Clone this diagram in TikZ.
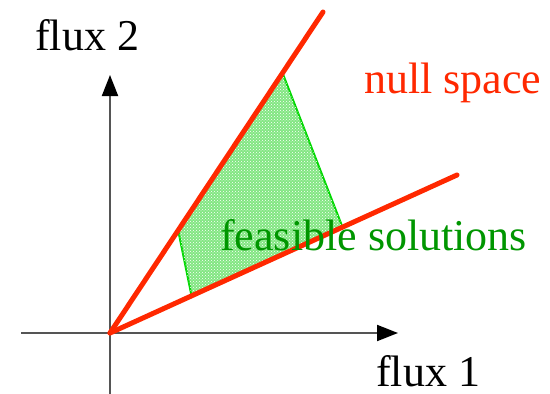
\documentclass[tikz,border=0pt]{standalone}
\usepackage{fontspec}
\setmainfont{Liberation Serif}
\usetikzlibrary{arrows.meta,calc,patterns}
\definecolor{nullred}{RGB}{255,40,0}
\definecolor{feasgreen}{RGB}{0,215,0}
\definecolor{feastext}{RGB}{0,150,0}
\definecolor{feasfill}{RGB}{130,230,130}
\definecolor{axisgray}{RGB}{85,85,85}
\tikzset{
  axisline/.style={draw=axisgray,line width=2pt},
  axisarrow/.style={axisline,-{Triangle[length=21pt,width=16pt,color=black]}},
  nullline/.style={draw=nullred,line width=5pt,line cap=round},
  feasregion/.style={fill=feasfill,draw=feasgreen,line width=2pt},
  feasdots/.style={pattern=crosshatch dots,pattern color=white},
  label/.style={font=\fontsize{44pt}{44pt}\selectfont,anchor=base west,inner sep=0pt}
}
\begin{document}
\begin{tikzpicture}[x=1pt,y=-1pt]
\useasboundingbox (0,0) rectangle (550,394);
\coordinate (O) at (110,333);
\coordinate (U) at (323,12);
\coordinate (L) at (457,175);
\coordinate (xs) at (21,333);
\coordinate (xe) at (398,333);
\coordinate (ys) at (110,394);
\coordinate (ye) at (110,75);
\coordinate (p1) at ($(O)!0.81!(U)$);
\coordinate (p2) at ($(O)!0.67!(L)$);
\coordinate (p3) at ($(O)!0.235!(L)$);
\coordinate (p4) at ($(O)!0.32!(U)$);
% feasible region
\path[feasregion] (p1) -- (p2) -- (p3) -- (p4) -- cycle;
\path[feasdots] (p1) -- (p2) -- (p3) -- (p4) -- cycle;
% axes
\draw[axisarrow] (xs) -- (xe);
\draw[axisarrow] (ys) -- (ye);
% null space lines
\draw[nullline] (O) -- (U);
\draw[nullline] (O) -- (L);
% labels
\node[label] (f2) at (35,50) {flux 2};
\node[label] (f1) at (376,386) {flux 1};
\node[label,text=nullred] (ns) at (364,93) {null space};
\node[label,text=feastext] (fs) at (220,250) {feasible solutions};
\end{tikzpicture}
\end{document}
